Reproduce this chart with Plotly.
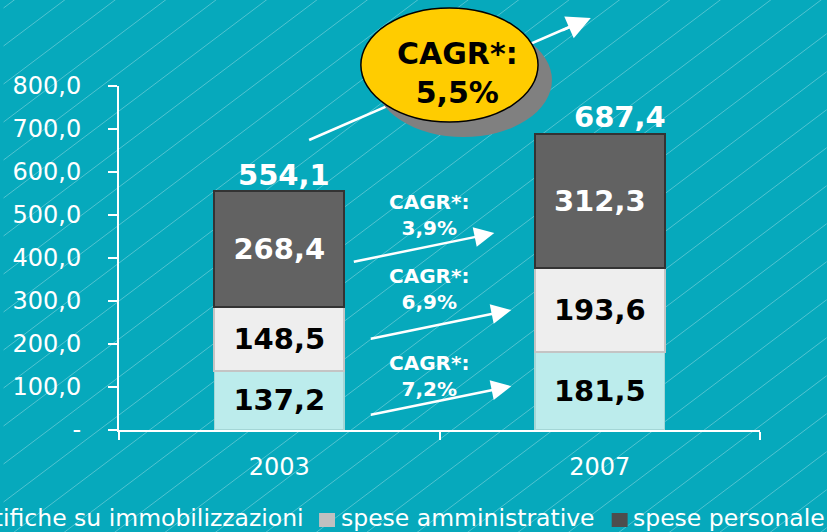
import plotly.graph_objects as go

# ---------------- data ----------------
years = ["2003", "2007"]
altro = [1.0, 1.0]                      # tiny red series at the base (legend entry cut off)
rettifiche = [137.2, 181.5]             # rettifiche su immobilizzazioni
spese_amm = [148.5, 193.6]              # spese amministrative
spese_pers = [268.4, 312.3]             # spese personale
totals = [554.1, 687.4]
cagr_series = ["3,9%", "6,9%", "7,2%"]  # personale, amministrative, rettifiche
cagr_total = "5,5%"
ytick_vals = [0, 100, 200, 300, 400, 500, 600, 700, 800]
ytick_text = ["-", "100,0", "200,0", "300,0", "400,0", "500,0", "600,0", "700,0", "800,0"]
legend_names = ["rettifiche su immobilizzazioni", "spese amministrative", "spese personale"]

# ---------------- layout geometry ----------------
W, H = 827, 532
ML, MR, MT, MB = 116, 67, 86, 102
PW, PH = W - ML - MR, H - MT - MB
BG = "#06A9BC"
FONT = "DejaVu Sans"


def px(xp):
    return (xp - ML) / PW


def py(yp):
    return (H - MB - yp) / PH


fig = go.Figure()

bar_w = 0.405
fig.add_trace(go.Bar(x=years, y=altro, name="altro", width=bar_w,
                     marker=dict(color="#FF2020", line=dict(color="#FF2020", width=1.5)),
                     showlegend=False, hoverinfo="skip"))
fig.add_trace(go.Bar(x=years, y=rettifiche, name=legend_names[0], width=bar_w,
                     marker=dict(color="#BCECEC", line=dict(color="#A4D6D6", width=1.5)),
                     texttemplate="%{y:.1f}", textposition="inside", insidetextanchor="middle",
                     textfont=dict(family=FONT, size=29, color="black", weight="bold"),
                     showlegend=False))
fig.add_trace(go.Bar(x=years, y=spese_amm, name=legend_names[1], width=bar_w,
                     marker=dict(color="#EEEEEE", line=dict(color="#C4C4C4", width=2)),
                     texttemplate="%{y:.1f}", textposition="inside", insidetextanchor="middle",
                     textfont=dict(family=FONT, size=29, color="black", weight="bold"),
                     showlegend=False))
fig.add_trace(go.Bar(x=years, y=spese_pers, name=legend_names[2], width=bar_w,
                     marker=dict(color="#626262", line=dict(color="#333333", width=2)),
                     texttemplate="%{y:.1f}", textposition="inside", insidetextanchor="middle",
                     textfont=dict(family=FONT, size=29, color="white", weight="bold"),
                     showlegend=False))

shapes = []
# background hatching (decorative)
path = ""
c = 692 - 38 * 20
while c < H + 0.75 * W + 40:
    if c > -10:
        path += f"M{px(0):.4f},{py(c):.4f} L{px(W):.4f},{py(c - 0.75 * W):.4f} "
    c += 38
shapes.append(dict(type="path", xref="paper", yref="paper", path=path, layer="below",
                   line=dict(color="rgba(255,255,255,0.3)", width=1)))

# big arrow body (drawn beneath the ellipse)
shapes.append(dict(type="line", xref="paper", yref="paper",
                   x0=px(307), y0=py(140), x1=px(580), y1=py(22),
                   line=dict(color="white", width=2.5), layer="above"))
# ellipse shadow + ellipse
shapes.append(dict(type="circle", xref="paper", yref="paper",
                   x0=px(373), x1=px(551), y0=py(137), y1=py(23),
                   fillcolor="#808080", line=dict(width=0), layer="above"))
shapes.append(dict(type="circle", xref="paper", yref="paper",
                   x0=px(359), x1=px(537), y0=py(122), y1=py(8),
                   fillcolor="#FFCC00", line=dict(color="black", width=1.5), layer="above"))
# manual legend squares
shapes.append(dict(type="rect", xref="paper", yref="paper",
                   x0=px(317), x1=px(333), y0=py(527), y1=py(513),
                   fillcolor="#C0C0C0", line=dict(width=0)))
shapes.append(dict(type="rect", xref="paper", yref="paper",
                   x0=px(611), x1=px(627), y0=py(527), y1=py(513),
                   fillcolor="#4D4D4D", line=dict(width=0)))

ann = []
# totals (x given as category index)
total_xshift = [5, 20]
for i, t in enumerate(totals):
    ann.append(dict(x=i, y=t, xref="x", yref="y", text=f"{t:.1f}".replace(".", ","),
                    showarrow=False, xanchor="center", yanchor="middle",
                    xshift=total_xshift[i], yshift=17,
                    font=dict(family=FONT, size=29, color="white", weight="bold")))

# series CAGR labels + arrows (x in category units between the bars)
lab_pos = [(0.466, 500), (0.466, 328), (0.466, 126)]
tip_pos = [(0.671, 458), (0.724, 279), (0.724, 102)]
for txt, (lx, ly), (tx, ty) in zip(cagr_series, lab_pos, tip_pos):
    ann.append(dict(x=lx, y=ly, xref="x", yref="y", text=f"CAGR*:<br>{txt}",
                    showarrow=False, align="center", xanchor="center", yanchor="middle",
                    font=dict(family=FONT, size=20, color="white", weight="bold")))
    ann.append(dict(x=tx, y=ty, xref="x", yref="y", text="", showarrow=True,
                    ax=-142, ay=29, arrowhead=2, arrowsize=1.6, arrowwidth=2.5,
                    arrowcolor="white", standoff=0))

# big arrow head
ann.append(dict(x=px(590), y=py(18), xref="paper", yref="paper", text="", showarrow=True,
                ax=-30, ay=13, arrowhead=2, arrowsize=1.9, arrowwidth=2.5,
                arrowcolor="white", standoff=0))
# ellipse text
ann.append(dict(x=px(456), y=py(73), xref="paper", yref="paper",
                text=f"CAGR*:<br>{cagr_total}", showarrow=False, align="center",
                xanchor="center", yanchor="middle",
                font=dict(family=FONT, size=30, color="black", weight="bold")))

# manual legend texts (left part is cut off by the image edge, as in the original)
leg_font = dict(family=FONT, size=23.5, color="white")
ann.append(dict(x=px(304), y=py(518), xref="paper", yref="paper", text=legend_names[0],
                showarrow=False, xanchor="right", yanchor="middle", font=leg_font))
ann.append(dict(x=px(337), y=py(518), xref="paper", yref="paper", text=legend_names[1],
                showarrow=False, xanchor="left", yanchor="middle", font=leg_font))
ann.append(dict(x=px(630), y=py(518), xref="paper", yref="paper", text=legend_names[2],
                showarrow=False, xanchor="left", yanchor="middle", font=leg_font))

fig.update_layout(
    width=W, height=H,
    margin=dict(l=ML, r=MR, t=MT, b=MB, pad=0),
    paper_bgcolor=BG, plot_bgcolor="rgba(0,0,0,0)",
    barmode="stack", bargap=0.6,
    separators=",.",
    showlegend=False,
    font=dict(family=FONT, size=24, color="white"),
    shapes=shapes, annotations=ann,
    xaxis=dict(type="category", range=[-0.5, 1.5], showgrid=False, zeroline=False,
               showline=True, linecolor="white", linewidth=2,
               ticks="outside", ticklen=8, tickwidth=2, tickcolor="white",
               tickson="boundaries", ticklabelstandoff=14,
               tickfont=dict(family=FONT, size=24, color="white")),
    yaxis=dict(range=[0, 800], tickvals=ytick_vals, ticktext=ytick_text,
               showgrid=False, zeroline=False,
               showline=True, linecolor="white", linewidth=2,
               ticks="outside", ticklen=9, tickwidth=2, tickcolor="white",
               ticklabelstandoff=22,
               tickfont=dict(family=FONT, size=24, color="white")),
)

fig.write_html("out.html", config={"displayModeBar": False},
               post_script="document.body.style.margin='0';")
